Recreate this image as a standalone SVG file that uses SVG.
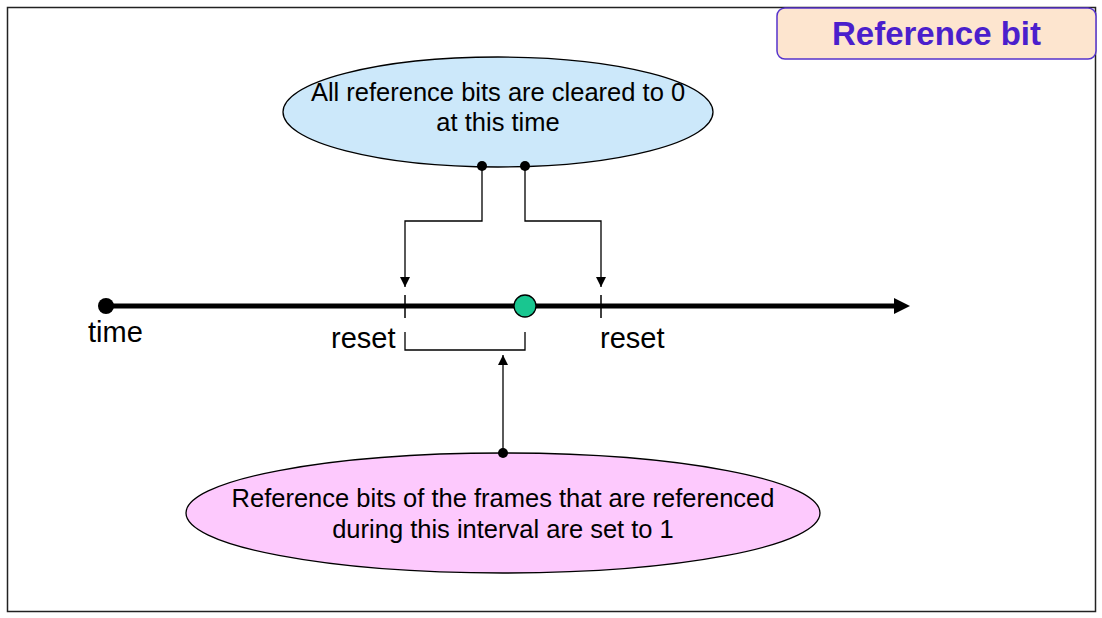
<svg xmlns="http://www.w3.org/2000/svg" width="1102" height="618" viewBox="0 0 1102 618">
<style>
text{font-family:"Liberation Sans",Arial,sans-serif;fill:#000}
.lbl{font-size:29px}
.el{font-size:25.5px;text-anchor:middle}
.conn{fill:none;stroke:#000;stroke-width:1.3}
</style>
<defs>
<marker id="ah" viewBox="0 0 10 10" refX="10" refY="5" markerWidth="10" markerHeight="10" markerUnits="userSpaceOnUse" orient="auto">
<path d="M0,0 L10,5 L0,10 z" fill="#000"/>
</marker>
<marker id="big" viewBox="0 0 16 16" refX="1" refY="8" markerWidth="16" markerHeight="16" markerUnits="userSpaceOnUse" orient="auto">
<path d="M0,0 L16,8 L0,16 z" fill="#000"/>
</marker>
</defs>
<rect width="1102" height="618" fill="#fff"/>
<rect x="7.5" y="7.5" width="1088" height="604" fill="none" stroke="#222" stroke-width="1.5"/>
<g id="title">
<rect x="777" y="8" width="319" height="51" rx="8" fill="#FDE5CF" stroke="#5533CC" stroke-width="1.5"/>
<text x="936.5" y="45" text-anchor="middle" font-size="33" font-weight="bold" style="fill:#4B1FCC">Reference bit</text>
</g>
<g id="timeline">
<line x1="106" y1="306" x2="895" y2="306" stroke="#000" stroke-width="5" marker-end="url(#big)"/>
<circle cx="106" cy="306" r="8" fill="#000"/>
<text class="lbl" x="88" y="342">time</text>
</g>
<g id="reset1">
<line x1="405" y1="295" x2="405" y2="318" stroke="#000" stroke-width="1.5"/>
<text class="lbl" x="331" y="348">reset</text>
</g>
<g id="reset2">
<line x1="601" y1="295" x2="601" y2="318" stroke="#000" stroke-width="1.5"/>
<text class="lbl" x="600" y="348">reset</text>
</g>
<g id="now">
<circle cx="525" cy="306" r="11" fill="#19C690" stroke="#000" stroke-width="1.3"/>
</g>
<g id="cleared">
<ellipse cx="498" cy="112" rx="215" ry="55" fill="#CCE8FA" stroke="#000" stroke-width="1.3"/>
<text class="el" x="498" y="101">All reference bits are cleared to 0</text>
<text class="el" x="498" y="131">at this time</text>
</g>
<g id="setone">
<ellipse cx="503" cy="513" rx="317" ry="60" fill="#FDC9FD" stroke="#000" stroke-width="1.3"/>
<text class="el" x="503" y="507">Reference bits of the frames that are referenced</text>
<text class="el" x="503" y="538">during this interval are set to 1</text>
</g>
<g id="connectors">
<path class="conn" d="M482,166 V221 H405 V287" marker-end="url(#ah)"/>
<path class="conn" d="M525,166 V221 H601 V287" marker-end="url(#ah)"/>
<path class="conn" d="M405,332 V350 H525 V332"/>
<path class="conn" d="M503,453 V355" marker-end="url(#ah)"/>
<circle cx="482" cy="166" r="5" fill="#000"/>
<circle cx="525" cy="166" r="5" fill="#000"/>
<circle cx="503" cy="453" r="5" fill="#000"/>
</g>
</svg>
